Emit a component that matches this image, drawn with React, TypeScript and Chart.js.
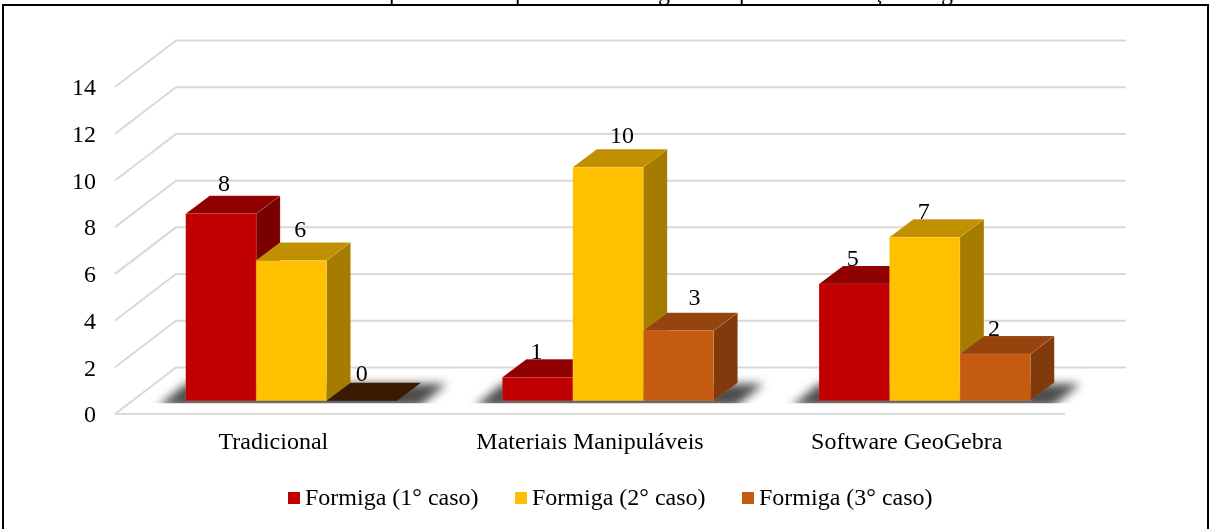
import React, { useEffect, useRef } from "react";
import { Chart, registerables } from "chart.js";

Chart.register(...registerables);

// ---- data ----
const categories = ["Tradicional", "Materiais Manipuláveis", "Software GeoGebra"];
const seriesNames = ["Formiga (1° caso)", "Formiga (2° caso)", "Formiga (3° caso)"];
const caso1 = [8, 1, 5];
const caso2 = [6, 10, 7];
const caso3 = [0, 3, 2];
const yTicksMax = 14;
const yStep = 2;

// letters of the line cut off by the top edge of the picture
const clippedLetters = ["p", "p", "g", "p", "ç", "g"];
const clippedX = [389, 515, 658, 739, 873, 941];

// ---- style ----
const FRONT = ["#C00000", "#FFC000", "#C55A11"];
const TOP = ["#900000", "#C09000", "#95440D"];
const SIDE = ["#7A0000", "#A67C00", "#803A0B"];
const ZERO_TOP = "#3A1A00";
const GRID = "#D9D9D9";
const EDGE = "rgba(255,235,215,0.14)";
const INK = "#000000";
const FONT = "'Liberation Serif', 'Times New Roman', serif";
const FONT_SIZE = 24;

const WALL_DX = 61;
const WALL_DY = -46.5;
const BAR_SHIFT_X = 18;
const BAR_SHIFT_Y = -13.3;
const BAR_DX = 24;
const BAR_DY = -18;
const Y_LABEL_DROP = 2;

// label nudges [series][category], px from the centre of the front face, and px above its top
const LABEL_DX = [
  [3, -1, -1.5],
  [9, 14, -1],
  [0, 16, -1],
];
const LABEL_UP = [
  [30, 26, 25],
  [31, 31, 25.5],
  [27, 33, 25],
];

const poly = (ctx: CanvasRenderingContext2D, pts: number[][], fill: string, edge = false) => {
  ctx.beginPath();
  pts.forEach(([x, y], i) => (i ? ctx.lineTo(x, y) : ctx.moveTo(x, y)));
  ctx.closePath();
  ctx.fillStyle = fill;
  ctx.fill();
  if (edge) {
    ctx.strokeStyle = EDGE;
    ctx.lineWidth = 0.75;
    ctx.stroke();
  }
};

const bars3d = {
  id: "bars3d",
  beforeDatasetsDraw(chart: any) {
    const { ctx, scales } = chart;
    const { x: xs, y: ys } = scales;
    const L = xs.left;
    const R = xs.right;

    // walls: gridlines
    ctx.save();
    ctx.strokeStyle = GRID;
    ctx.lineWidth = 2;
    ys.ticks.forEach((t: any) => {
      const y = ys.getPixelForValue(t.value);
      ctx.beginPath();
      ctx.moveTo(L, y);
      ctx.lineTo(L + WALL_DX, y + WALL_DY);
      ctx.lineTo(R + WALL_DX, y + WALL_DY);
      ctx.stroke();
    });
    const y0 = ys.getPixelForValue(0);
    ctx.beginPath();
    ctx.moveTo(L, y0);
    ctx.lineTo(R, y0);
    ctx.stroke();
    ctx.restore();

    // everything on the bar plane is shifted into the depth of the floor
    ctx.save();
    ctx.translate(BAR_SHIFT_X, BAR_SHIFT_Y);
    const metas = chart.data.datasets.map((_: any, i: number) => chart.getDatasetMeta(i));

    // floor shadow
    categories.forEach((_, c) => {
      const a = metas[0].data[c];
      const b = metas[metas.length - 1].data[c];
      const l = a.x - a.width / 2;
      const r = b.x + b.width / 2;
      ctx.save();
      ctx.beginPath();
      ctx.rect(l - 60, y0 - 40, r - l + 140, 42.5);
      ctx.clip();
      ctx.filter = "blur(5px)";
      poly(
        ctx,
        [
          [l - 28, y0 + 6],
          [r + 22, y0 + 6],
          [r + 50, y0 - 17],
          [l + 0, y0 - 17],
        ],
        "#4d4d4d",
      );
      ctx.restore();
    });

    // depth faces
    metas.forEach((meta: any, s: number) => {
      meta.data.forEach((bar: any, c: number) => {
        const l = bar.x - bar.width / 2;
        const r = bar.x + bar.width / 2;
        const t = bar.y;
        const b = bar.base;
        const v = chart.data.datasets[s].data[c];
        if (b - t > 0) {
          poly(ctx, [[r, t], [r + BAR_DX, t + BAR_DY], [r + BAR_DX, b + BAR_DY], [r, b]], SIDE[s], true);
        }
        poly(
          ctx,
          [[l, t], [r, t], [r + BAR_DX, t + BAR_DY], [l + BAR_DX, t + BAR_DY]],
          v === 0 ? ZERO_TOP : TOP[s],
          v !== 0,
        );
      });
    });
    // translation stays on for the library's own bar drawing
  },
  afterDatasetsDraw(chart: any) {
    const { ctx } = chart;

    // faint edge of the front faces, still on the bar plane
    ctx.strokeStyle = EDGE;
    ctx.lineWidth = 0.75;
    chart.data.datasets.forEach((_: any, s: number) => {
      chart.getDatasetMeta(s).data.forEach((bar: any) => {
        if (bar.base - bar.y > 0) {
          ctx.strokeRect(bar.x - bar.width / 2, bar.y, bar.width, bar.base - bar.y);
        }
      });
    });
    ctx.restore();

    // value labels
    ctx.save();
    ctx.font = `${FONT_SIZE}px ${FONT}`;
    ctx.fillStyle = INK;
    ctx.textAlign = "center";
    ctx.textBaseline = "middle";
    chart.data.datasets.forEach((ds: any, s: number) => {
      chart.getDatasetMeta(s).data.forEach((bar: any, c: number) => {
        ctx.fillText(
          String(ds.data[c]),
          bar.x + BAR_SHIFT_X + LABEL_DX[s][c],
          bar.y + BAR_SHIFT_Y - LABEL_UP[s][c] + 1,
        );
      });
    });
    ctx.restore();
  },
  afterDraw(chart: any) {
    const { ctx, width, height } = chart;
    ctx.save();

    // frame, open at the bottom of the picture
    ctx.strokeStyle = "#000000";
    ctx.lineWidth = 2;
    ctx.beginPath();
    ctx.moveTo(3, height);
    ctx.lineTo(3, 5);
    ctx.lineTo(width - 2, 5);
    ctx.lineTo(width - 2, height);
    ctx.stroke();

    // line cut off by the top edge
    ctx.font = `${FONT_SIZE}px ${FONT}`;
    ctx.fillStyle = INK;
    ctx.textAlign = "left";
    ctx.textBaseline = "alphabetic";
    clippedLetters.forEach((ch, i) => ctx.fillText(ch, clippedX[i], 0));

    // legend
    const boxX = [288, 515, 742];
    ctx.textBaseline = "middle";
    chart.data.datasets.forEach((ds: any, i: number) => {
      ctx.fillStyle = ds.backgroundColor;
      ctx.fillRect(boxX[i], 492, 12, 12);
      ctx.fillStyle = INK;
      ctx.fillText(ds.label, boxX[i] + 17, 499);
    });
    ctx.restore();
  },
};

export default function App() {
  const ref = useRef<HTMLCanvasElement>(null);
  useEffect(() => {
    document.body.style.margin = "0";
    document.body.style.background = "#ffffff";
    const chart = new Chart(ref.current as HTMLCanvasElement, {
      type: "bar",
      data: {
        labels: categories,
        datasets: [caso1, caso2, caso3].map((data, i) => ({
          label: seriesNames[i],
          data,
          backgroundColor: FRONT[i],
          borderWidth: 0,
          categoryPercentage: 0.667,
          barPercentage: 1,
          clip: false as any,
        })),
      },
      options: {
        responsive: false,
        animation: false,
        devicePixelRatio: 1,
        layout: { padding: { left: 55, right: 145, top: 87, bottom: 51 } },
        plugins: {
          legend: { display: false },
          title: { display: false },
          tooltip: { enabled: false },
        },
        scales: {
          x: {
            afterFit: (s: any) => {
              s.height = 64;
            },
            grid: { display: false, drawTicks: false },
            border: { display: false },
            ticks: {
              autoSkip: false,
              maxRotation: 0,
              padding: 14,
              color: INK,
              font: { family: FONT, size: FONT_SIZE },
            },
          },
          y: {
            min: 0,
            max: yTicksMax,
            afterFit: (s: any) => {
              s.width = 60;
              if (!s.__dropped) {
                s.__dropped = true;
                const drawLabels = s.drawLabels;
                s.drawLabels = function (area: any) {
                  const c = s.ctx;
                  c.save();
                  c.translate(0, Y_LABEL_DROP);
                  drawLabels.call(s, area);
                  c.restore();
                };
              }
            },
            grid: { display: false, drawTicks: false },
            border: { display: false },
            ticks: {
              stepSize: yStep,
              padding: 19,
              color: INK,
              font: { family: FONT, size: FONT_SIZE },
            },
          },
        },
      },
      plugins: [bars3d],
    });
    return () => chart.destroy();
  }, []);
  return <canvas ref={ref} width={1210} height={529} style={{ display: "block" }} />;
}
